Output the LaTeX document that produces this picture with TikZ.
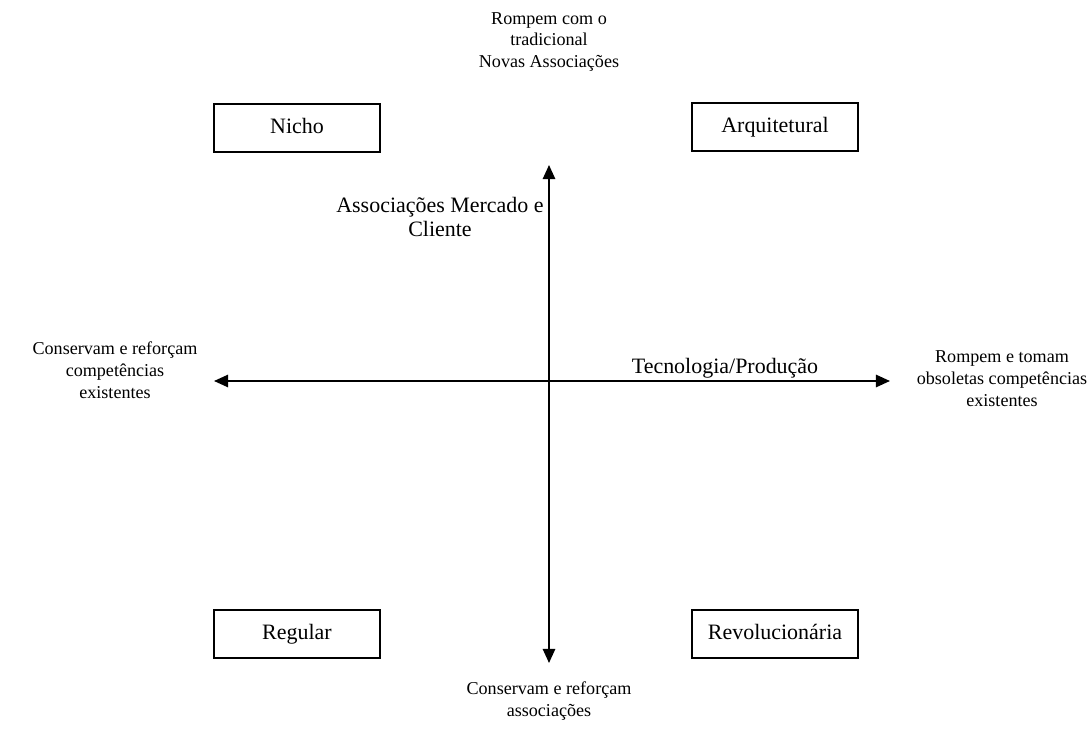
\documentclass[tikz,border=0pt]{standalone}
\usepackage{fontspec}
\setmainfont{Liberation Serif}
\usetikzlibrary{arrows.meta}

\begin{document}
\begin{tikzpicture}[x=0.02cm,y=-0.02cm]
\tikzstyle{every node}+=[inner sep=0pt]
\tikzstyle{quad}=[draw=black, line width=1.1pt, minimum width=3.32cm, minimum height=0.96cm, text height=1.45ex, text depth=0ex, font=\fontsize{12.5}{15}\selectfont]
\tikzstyle{axis}=[black, line width=1.1pt, {Triangle[length=8pt,width=7pt]}-{Triangle[length=8pt,width=7pt]}]
\tikzstyle{small}=[align=center, font=\fontsize{10.3}{12.5}\selectfont]
\tikzstyle{big}=[align=center, font=\fontsize{12.5}{14}\selectfont]
\useasboundingbox (0,0) rectangle (1091,729);
% quadrants
\node [quad] (nicho) at (297,128) {Nicho};
\node [quad] (arq) at (775,127) {Arquitetural};
\node [quad] (reg) at (297,634) {Regular};
\node [quad] (rev) at (775,634) {Revolucionária};
% axes
\coordinate (top) at (549,165);
\coordinate (bot) at (549,663);
\coordinate (left) at (214,381);
\coordinate (right) at (890,381);
\draw [axis] (bot) -- (top);
\draw [axis] (left) -- (right);
% axis labels
\node [small] (toplbl) at (549,42) {Rompem com o\\tradicional\\Novas Associações};
\node [small] (botlbl) at (549,701) {Conservam e reforçam\\associações};
\node [small] (leftlbl) at (115,370) {Conservam e reforçam\\competências\\existentes};
\node [small] (rightlbl) at (1002,379) {Rompem e tomam\\obsoletas competências\\existentes};
\node [big] (mercado) at (440,217) {Associações Mercado e\\Cliente};
\node [big] (tecno) at (725,368) {Tecnologia/Produção};
\end{tikzpicture}
\end{document}
